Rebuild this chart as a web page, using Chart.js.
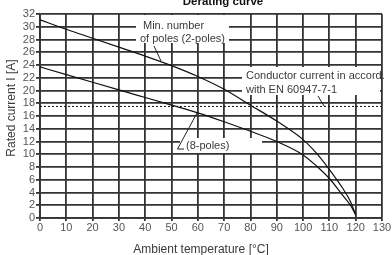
<!DOCTYPE html>
<html>
<head>
<meta charset="utf-8">
<script src="https://cdn.jsdelivr.net/npm/chart.js@4/dist/chart.umd.min.js"></script>
<style>
  html, body { margin: 0; padding: 0; background: #fff; }
  #wrap { width: 392px; height: 255px; }
</style>
</head>
<body>
<div id="wrap"><canvas id="chart" width="392" height="255"></canvas></div>
<script>
// readings taken off the printed derating curve
const tempsTwoPole = [0, 10, 20, 30, 40, 50, 60, 70, 80, 90, 100, 105, 110, 115, 118, 120];
const currentTwoPole = [31.1, 29.6, 28.2, 26.8, 25.4, 23.9, 22.2, 20.2, 17.7, 15.2, 12.3, 10.2, 7.6, 4.7, 2.6, 0.5];
const tempsEightPole = [0, 10, 20, 30, 40, 50, 60, 70, 80, 90, 100, 105, 110, 115, 118, 120];
const currentEightPole = [23.7, 22.5, 21.3, 20.1, 18.9, 17.7, 16.5, 15.1, 13.6, 12.0, 9.9, 8.2, 6.2, 3.6, 2.0, 0.5];
const conductorTemps = [0, 130];
const conductorCurrent = [17.5, 17.5];

const xTicks = [0, 10, 20, 30, 40, 50, 60, 70, 80, 90, 100, 110, 120, 130];
const yTicks = [0, 2, 4, 6, 8, 10, 12, 14, 16, 18, 20, 22, 24, 26, 28, 30, 32];

function pts(xs, ys) {
    return xs.map((x, i) => ({ x: x, y: ys[i] }));
}

const FONT = "'Liberation Sans', Arial, sans-serif";
const TEXT = '#3a3a3a';
const GRID = '#333';

// white boxes with callout text, drawn over the grid but under the curves
const labelsPlugin = {
    id: 'labels',
    beforeDatasetsDraw(chart) {
        const c = chart.ctx;
        c.save();
        c.fillStyle = '#fff';
        c.fillRect(136, 15, 93, 28);
        c.fillRect(242, 67, 138, 28);
        c.fillRect(180, 138, 82, 15);

        c.fillStyle = TEXT;
        c.font = '11px ' + FONT;
        c.textBaseline = 'middle';
        c.textAlign = 'left';
        c.fillText('Min. number', 143, 26);
        c.fillText('of poles (2-poles)', 140, 39);
        c.fillText('Conductor current in accord.', 246, 76);
        c.fillText('with EN 60947-7-1', 246, 89.5);
        c.fillText('(8-poles)', 186, 145.5);

        c.strokeStyle = '#222';
        c.lineWidth = 1;
        c.beginPath();
        c.moveTo(154, 46); c.lineTo(161, 61);
        c.moveTo(318, 96); c.lineTo(324, 106);
        c.moveTo(197, 113); c.lineTo(177.5, 149); c.lineTo(184, 149);
        c.stroke();
        c.restore();
    },
    afterDraw(chart) {
        const c = chart.ctx;
        c.save();
        c.fillStyle = '#111';
        c.font = 'bold 11.5px ' + FONT;
        c.textAlign = 'center';
        c.textBaseline = 'alphabetic';
        c.fillText('Derating curve', 223, 5);

        c.fillStyle = TEXT;
        c.font = '12px ' + FONT;
        c.textBaseline = 'middle';
        c.fillText('Ambient temperature [°C]', 201, 250);
        c.translate(12, 108);
        c.rotate(-Math.PI / 2);
        c.fillText('Rated current I [A]', 0, 0);
        c.restore();
    }
};

new Chart(document.getElementById('chart'), {
    type: 'line',
    data: {
        datasets: [
            {
                label: '2-poles',
                data: pts(tempsTwoPole, currentTwoPole),
                borderColor: '#111',
                borderWidth: 1.2,
                pointRadius: 0,
                cubicInterpolationMode: 'monotone'
            },
            {
                label: '8-poles',
                data: pts(tempsEightPole, currentEightPole),
                borderColor: '#111',
                borderWidth: 1.2,
                pointRadius: 0,
                cubicInterpolationMode: 'monotone'
            },
            {
                label: 'EN 60947-7-1',
                data: pts(conductorTemps, conductorCurrent),
                borderColor: '#111',
                borderWidth: 1,
                borderDash: [2, 2],
                pointRadius: 0
            }
        ]
    },
    options: {
        responsive: false,
        animation: false,
        devicePixelRatio: 1,
        layout: { padding: { top: 14, right: 10, left: 0, bottom: 0 } },
        plugins: {
            legend: { display: false },
            tooltip: { enabled: false }
        },
        scales: {
            x: {
                type: 'linear',
                min: 0,
                max: 130,
                afterBuildTicks: s => { s.ticks = xTicks.map(v => ({ value: v })); },
                afterFit: s => { s.height = 37; },
                ticks: { color: '#555', font: { family: FONT, size: 11 }, padding: 0, maxRotation: 0, autoSkip: false },
                grid: { color: GRID, lineWidth: 1.8, tickLength: 3 },
                border: { color: GRID, width: 1.8 }
            },
            y: {
                min: 0,
                max: 32,
                afterBuildTicks: s => { s.ticks = yTicks.map(v => ({ value: v })); },
                afterFit: s => { s.width = 40; },
                ticks: { color: '#555', font: { family: FONT, size: 11 }, padding: 1, autoSkip: false },
                grid: { color: GRID, lineWidth: 1.8, tickLength: 4 },
                border: { color: GRID, width: 1.8 }
            }
        }
    },
    plugins: [labelsPlugin]
});
</script>
</body>
</html>
